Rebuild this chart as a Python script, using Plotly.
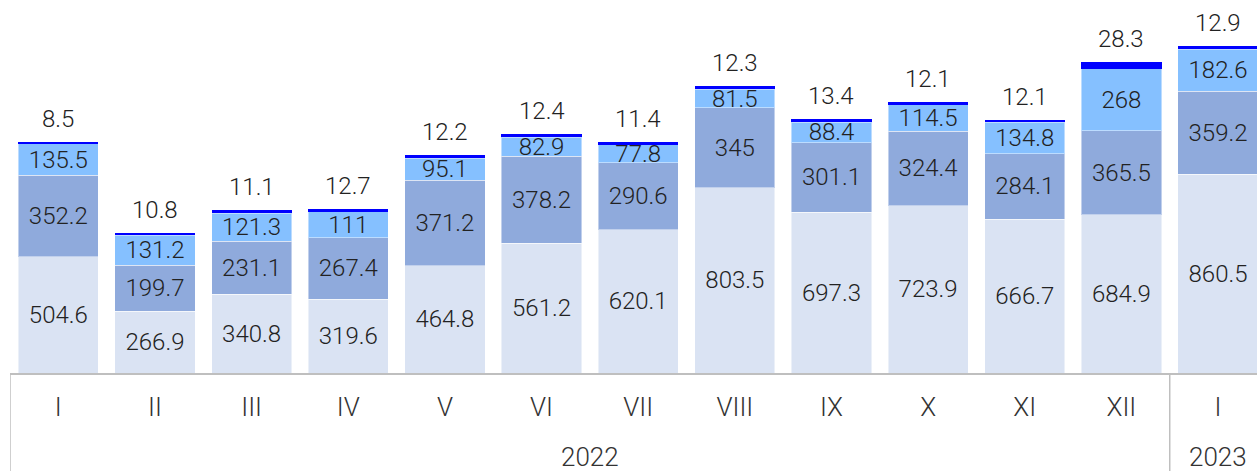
import plotly.graph_objects as go

# Monthly values, stacked in four components
months = ["I", "II", "III", "IV", "V", "VI", "VII", "VIII", "IX", "X", "XI", "XII", "I"]
years = ["2022"] * 12 + ["2023"]
base = [504.6, 266.9, 340.8, 319.6, 464.8, 561.2, 620.1, 803.5, 697.3, 723.9, 666.7, 684.9, 860.5]
second = [352.2, 199.7, 231.1, 267.4, 371.2, 378.2, 290.6, 345, 301.1, 324.4, 284.1, 365.5, 359.2]
third = [135.5, 131.2, 121.3, 111, 95.1, 82.9, 77.8, 81.5, 88.4, 114.5, 134.8, 268, 182.6]
top = [8.5, 10.8, 11.1, 12.7, 12.2, 12.4, 11.4, 12.3, 13.4, 12.1, 12.1, 28.3, 12.9]

xs = list(range(len(months)))
label_font = dict(family="Roboto", size=24, color="#222222", weight=300)
axis_font = dict(family="Roboto", size=26, color="#333333", weight=300)


def fmt(v):
    return f"{v:g}"


fig = go.Figure()
for vals, color in [(base, "#dae3f3"), (second, "#8faadc"), (third, "#85c0ff")]:
    fig.add_trace(go.Bar(
        x=xs, y=vals, marker=dict(color=color, line=dict(color="rgba(255,255,255,0.45)", width=1)),
        text=[fmt(v) for v in vals], textposition="inside", insidetextanchor="middle",
        textangle=0, constraintext="none", textfont=label_font, hoverinfo="skip",
    ))
fig.add_trace(go.Bar(
    x=xs, y=top, marker=dict(color="#0000ff", line=dict(width=0)), hoverinfo="skip",
))

# values of the thin top component, written above each stack
for i, t in enumerate(top):
    total = base[i] + second[i] + third[i] + t
    fig.add_annotation(x=xs[i], y=total, text=fmt(t), showarrow=False,
                       yanchor="middle", yshift=23, font=label_font)

# year labels under the month row
year_groups = {}
for i, y in enumerate(years):
    year_groups.setdefault(y, []).append(i)
for y, idx in year_groups.items():
    fig.add_annotation(x=(idx[0] + idx[-1]) / 2, y=0, yref="paper", text=y,
                       showarrow=False, yanchor="middle", yshift=-84, font=axis_font)

# group dividers
for xd in [-0.5, 11.5]:
    fig.add_shape(type="line", xref="x", yref="paper", x0=xd, x1=xd, y0=0, y1=-0.4,
                  line=dict(color="#bfbfbf", width=1.5))

fig.update_layout(
    width=1257, height=471, barmode="stack", bargap=0.17, showlegend=False,
    margin=dict(l=10, r=0, t=0, b=98),
    paper_bgcolor="white", plot_bgcolor="white",
    xaxis=dict(range=[-0.5, 12.403], tickvals=xs, ticktext=months, tickfont=axis_font,
               showline=True, linecolor="#bfbfbf", linewidth=1.5, showgrid=False,
               zeroline=False, ticks="", ticklabelstandoff=10),
    yaxis=dict(range=[0, 1616], visible=False),
)
fig.update_traces(cliponaxis=False)

fig.write_html("out.html")
